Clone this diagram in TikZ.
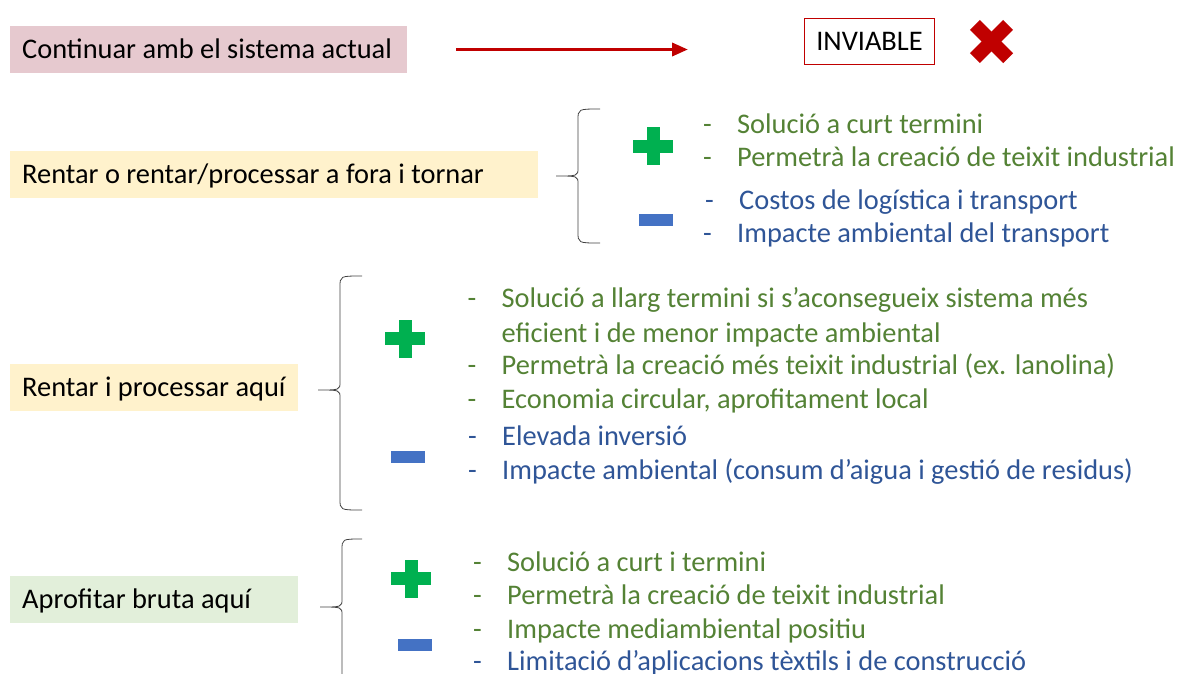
\documentclass[tikz,border=0pt]{standalone}
\usepackage{fontspec}
\setmainfont{Carlito}
\usepackage{tikz}
\usetikzlibrary{arrows.meta}

\definecolor{BoxPink}{HTML}{E6C9CF}
\definecolor{BoxYellow}{HTML}{FFF2CC}
\definecolor{BoxGreen}{HTML}{E2EFDA}
\definecolor{DarkRed}{HTML}{C00000}
\definecolor{ProGreen}{HTML}{548235}
\definecolor{ConBlue}{HTML}{2F5597}
\definecolor{PlusGreen}{HTML}{00B050}
\definecolor{MinusBlue}{HTML}{4472C4}

\tikzset{
  option/.style={anchor=west,inner xsep=12pt,inner ysep=0pt,minimum height=47pt,
    text height=18pt,text depth=0pt,align=flush left,font=\fontsize{28.4}{34}\selectfont},
  item/.style={anchor=base west,inner sep=0pt,align=flush left,font=\fontsize{28.4}{34.5}\selectfont},
  pro/.style={item,text=ProGreen},
  con/.style={item,text=ConBlue},
  brace/.style={draw=black!75,line width=0.8pt},
}
\newcommand{\dsh}{\makebox[34pt][l]{-}}

\begin{document}
\begin{tikzpicture}[x=1pt,y=-1pt]
\useasboundingbox (0,0) rectangle (1177,673);

% options
\node[option,fill=BoxPink,text width=373pt] (actual) at (10,49.5) {Continuar amb el sistema actual};
\node[option,fill=BoxYellow,text width=504pt] (fora) at (10,174.5) {Rentar o rentar/processar a fora i tornar};
\node[option,fill=BoxYellow,text width=264pt] (aqui) at (10,387.5) {Rentar i processar aquí};
\node[option,fill=BoxGreen,text width=264pt] (bruta) at (10,599.5) {Aprofitar bruta aquí};

% first option
\node[draw=DarkRed,line width=1pt,inner xsep=10pt,minimum height=46pt,minimum width=130pt,
  text height=18pt,text depth=0pt,font=\fontsize{28.4}{34}\selectfont] (inviable) at (869.5,41) {INVIABLE};
\draw[DarkRed,line width=3.5pt,-{Triangle[length=16pt,width=13pt]},shorten <=49pt,shorten >=116pt]
  (actual) -- (actual -| inviable.west);
\begin{scope}[shift={(991.5,41.5)},rotate=45]
\fill[DarkRed] (-23.5,-7) rectangle (23.5,7);
\fill[DarkRed] (-7,-23.5) rectangle (7,23.5);
\end{scope}

% second option
\draw[brace] (600,109) .. controls (578,109) .. (578,120) -- (578,168)
  .. controls (578,176) .. (556,176) .. controls (578,176) .. (578,184)
  -- (578,232) .. controls (578,243) .. (600,243);
\fill[PlusGreen] (633,139.5) rectangle (673,152.5);
\fill[PlusGreen] (646.5,127) rectangle (659.5,165);
\fill[MinusBlue] (639,214) rectangle (673,226);
\node[pro] (p1a) at (703,133.5) {\dsh Solució a curt termini};
\node[pro] (p1b) at (703,166) {\dsh Permetrà la creació de teixit industrial};
\node[con] (c1a) at (705,209) {\dsh Costos de logística i transport};
\node[con] (c1b) at (703,242.5) {\dsh Impacte ambiental del transport};

% third option
\draw[brace] (362,276) .. controls (340,276) .. (340,287) -- (340,382)
  .. controls (340,390) .. (318,390) .. controls (340,390) .. (340,398)
  -- (340,499) .. controls (340,510) .. (362,510);
\fill[PlusGreen] (385,332) rectangle (425,345);
\fill[PlusGreen] (398.5,319.5) rectangle (411.5,357.5);
\fill[MinusBlue] (391,451) rectangle (425,463);
\node[pro] (p2a) at (467.5,342) {\dsh Solució a llarg termini si s’aconsegueix sistema més\\
  \hspace*{34pt}eficient i de menor impacte ambiental};
\node[pro] (p2b) at (467.5,374) {\dsh Permetrà la creació més teixit industrial (ex. lanolina)};
\node[pro] (p2c) at (467.5,408) {\dsh Economia circular, aprofitament local};
\node[con] (c2a) at (468,445) {\dsh Elevada inversió};
\node[con] (c2b) at (468,479) {\dsh Impacte ambiental (consum d’aigua i gestió de residus)};

% fourth option
\draw[brace] (362,539) .. controls (342,539) .. (342,550) -- (342,599)
  .. controls (342,607) .. (320,607) .. controls (342,607) .. (342,615)
  -- (342,690);
\fill[PlusGreen] (391,572) rectangle (431,585);
\fill[PlusGreen] (404.5,559.5) rectangle (417.5,597.5);
\fill[MinusBlue] (398,639) rectangle (432,651);
\node[pro] (p3a) at (473,571) {\dsh Solució a curt i termini};
\node[pro] (p3b) at (473,604.5) {\dsh Permetrà la creació de teixit industrial};
\node[pro] (p3c) at (473,638) {\dsh Impacte mediambiental positiu};
\node[con] (c3a) at (473,670.5) {\dsh Limitació d’aplicacions tèxtils i de construcció};

\end{tikzpicture}
\end{document}
